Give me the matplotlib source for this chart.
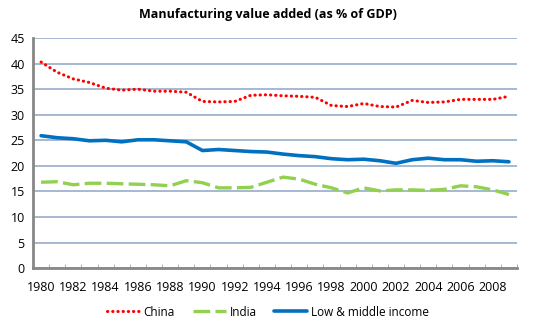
import matplotlib.pyplot as plt

# Data
years = list(range(1980, 2010))
china = [40.3, 38.3, 37.0, 36.3, 35.2, 34.8, 35.0, 34.6, 34.6, 34.4,
         32.6, 32.5, 32.6, 33.8, 33.9, 33.7, 33.6, 33.4, 31.8, 31.6,
         32.2, 31.6, 31.5, 32.8, 32.4, 32.5, 33.0, 33.0, 33.0, 33.6]
india = [16.8, 16.9, 16.3, 16.6, 16.6, 16.5, 16.4, 16.3, 16.1, 17.1,
         16.7, 15.7, 15.7, 15.8, 16.8, 17.8, 17.4, 16.4, 15.7, 14.7,
         15.7, 15.1, 15.3, 15.3, 15.2, 15.4, 16.1, 15.9, 15.3, 14.4]
low_middle = [25.9, 25.5, 25.3, 24.9, 25.0, 24.7, 25.1, 25.1, 24.9, 24.7,
              23.0, 23.2, 23.0, 22.8, 22.7, 22.3, 22.0, 21.8, 21.4, 21.2,
              21.3, 21.0, 20.5, 21.2, 21.5, 21.2, 21.2, 20.9, 21.0, 20.8]
y_ticks = [0, 5, 10, 15, 20, 25, 30, 35, 40, 45]

plt.rcParams["font.family"] = ["Open Sans", "DejaVu Sans"]

fig = plt.figure(figsize=(5.36, 3.25), dpi=100)
ax = fig.add_axes([0.0616, 0.175, 0.903, 0.708])

x = list(range(len(years)))

ax.plot(x, china, color="#FF0000", linewidth=2.2, linestyle=(0, (0.1, 1.6)),
        dash_capstyle="round", label="China", zorder=3)
ax.plot(x, india, color="#92D050", linewidth=2.4, linestyle=(0, (5, 1.6)),
        label="India", zorder=3)
ax.plot(x, low_middle, color="#0070C0", linewidth=2.6, label="Low & middle income",
        zorder=3, solid_capstyle="round")

ax.set_xlim(-0.5, len(years) - 0.5)
ax.set_ylim(0, 45)
ax.set_yticks(y_ticks)
ax.yaxis.grid(True, color="#8EA4C8", linewidth=1.1)
ax.set_axisbelow(True)

# category labels every two years, tick marks between categories
ax.set_xticks(x[::2])
ax.set_xticklabels([str(y) for y in years[::2]])
ax.set_xticks([i - 0.5 for i in range(len(years) + 1)], minor=True)
ax.tick_params(axis="x", which="major", length=0, pad=9, labelsize=9)
ax.tick_params(axis="x", which="minor", length=3, direction="in", color="#A0A0A0")
ax.tick_params(axis="y", length=0, pad=6, labelsize=9)

for side in ["top", "right"]:
    ax.spines[side].set_visible(False)
for side in ["left", "bottom"]:
    ax.spines[side].set_color("#888888")
    ax.spines[side].set_linewidth(2)

fig.suptitle("Manufacturing value added (as % of GDP)", x=0.5, y=0.975,
             fontsize=9, fontweight="bold")

fig.legend(loc="center", bbox_to_anchor=(0.5, 0.04), ncol=3, frameon=False,
           fontsize=8.5, handlelength=2.8, handletextpad=0.3, columnspacing=1.5)

plt.savefig("out.png", dpi=100)
